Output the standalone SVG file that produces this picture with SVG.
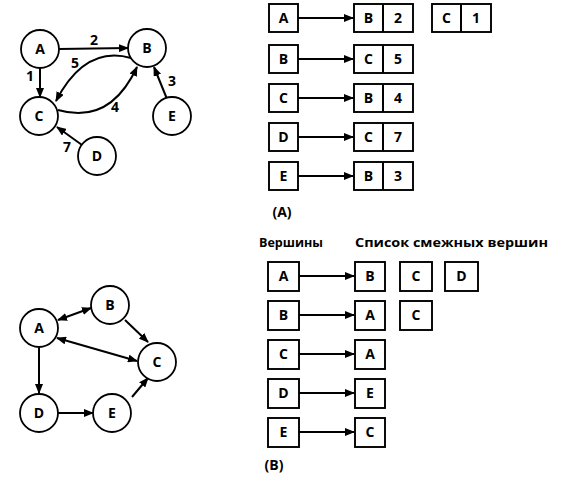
<svg xmlns="http://www.w3.org/2000/svg" width="561" height="477" viewBox="0 0 561 477">
<style>
.n circle{fill:#fff;stroke:#000;stroke-width:1.8}
.box{fill:#fff;stroke:#000;stroke-width:1.9}
text{font-family:"Open Sans","DejaVu Sans",sans-serif;font-weight:bold;font-size:14px;fill:#000;text-anchor:middle}
.lbl{font-size:14px}
.hdr{font-size:13px;text-anchor:start}
.e{fill:none;stroke:#000;stroke-width:2}
</style>
<defs>
<marker id="ah" markerUnits="userSpaceOnUse" markerWidth="10" markerHeight="8" refX="9" refY="4" orient="auto">
<path d="M0,0 L10,4 L0,8 z" fill="#000"/>
</marker>
<marker id="as" markerUnits="userSpaceOnUse" markerWidth="10" markerHeight="8" refX="1" refY="4" orient="auto">
<path d="M10,0 L0,4 L10,8 z" fill="#000"/>
</marker>
</defs>

<!-- Top graph -->
<g id="connectors-top">
<line class="e" x1="59" y1="49" x2="128" y2="48" marker-end="url(#ah)"/>
<line class="e" x1="40" y1="68" x2="40" y2="97" marker-end="url(#ah)"/>
<path class="e" d="M131,58 Q85,45 56,101" marker-end="url(#ah)"/>
<path class="e" d="M58,110 Q110,125 137,67" marker-end="url(#ah)"/>
<line class="e" x1="167" y1="99" x2="154" y2="67" marker-end="url(#ah)"/>
<line class="e" x1="82" y1="145" x2="57" y2="127" marker-end="url(#ah)"/>
</g>
<g id="edge-labels-top">
<text class="lbl" x="94" y="45">2</text>
<text class="lbl" x="30" y="81">1</text>
<text class="lbl" x="75" y="68">5</text>
<text class="lbl" x="115" y="112">4</text>
<text class="lbl" x="172" y="86">3</text>
<text class="lbl" x="67" y="152">7</text>
</g>
<g id="tA" class="n"><circle cx="40" cy="49" r="19"/><text x="40" y="54">A</text></g>
<g id="tB" class="n"><circle cx="147" cy="48" r="19"/><text x="147" y="53">B</text></g>
<g id="tC" class="n"><circle cx="39" cy="116" r="19"/><text x="39" y="121">C</text></g>
<g id="tE" class="n"><circle cx="172" cy="116" r="19"/><text x="172" y="121">E</text></g>
<g id="tD" class="n"><circle cx="97" cy="156" r="19"/><text x="97" y="161">D</text></g>

<!-- Table (A) -->
<g id="connectors-A">
<line class="e" x1="298" y1="18" x2="353" y2="18" marker-end="url(#ah)"/>
<line class="e" x1="298" y1="59" x2="353" y2="59" marker-end="url(#ah)"/>
<line class="e" x1="298" y1="98" x2="353" y2="98" marker-end="url(#ah)"/>
<line class="e" x1="298" y1="137" x2="353" y2="137" marker-end="url(#ah)"/>
<line class="e" x1="298" y1="176" x2="353" y2="176" marker-end="url(#ah)"/>
</g>
<g id="A-row-A"><rect class="box" x="269" y="4" width="29" height="28"/><text x="283.5" y="23">A</text>
<rect class="box" x="354" y="4" width="59" height="28"/><line class="e" x1="383" y1="4" x2="383" y2="32" stroke-width="1.8"/><text x="368.5" y="23">B</text><text x="398" y="23">2</text>
<rect class="box" x="432" y="4" width="59" height="28"/><line class="e" x1="461" y1="4" x2="461" y2="32" stroke-width="1.8"/><text x="446.5" y="23">C</text><text x="476" y="23">1</text></g>
<g id="A-row-B"><rect class="box" x="269" y="45" width="29" height="28"/><text x="283.5" y="64">B</text>
<rect class="box" x="354" y="45" width="59" height="28"/><line class="e" x1="383" y1="45" x2="383" y2="73" stroke-width="1.8"/><text x="368.5" y="64">C</text><text x="398" y="64">5</text></g>
<g id="A-row-C"><rect class="box" x="269" y="84" width="29" height="28"/><text x="283.5" y="103">C</text>
<rect class="box" x="354" y="84" width="59" height="28"/><line class="e" x1="383" y1="84" x2="383" y2="112" stroke-width="1.8"/><text x="368.5" y="103">B</text><text x="398" y="103">4</text></g>
<g id="A-row-D"><rect class="box" x="269" y="123" width="29" height="28"/><text x="283.5" y="142">D</text>
<rect class="box" x="354" y="123" width="59" height="28"/><line class="e" x1="383" y1="123" x2="383" y2="151" stroke-width="1.8"/><text x="368.5" y="142">C</text><text x="398" y="142">7</text></g>
<g id="A-row-E"><rect class="box" x="269" y="162" width="29" height="28"/><text x="283.5" y="181">E</text>
<rect class="box" x="354" y="162" width="59" height="28"/><line class="e" x1="383" y1="162" x2="383" y2="190" stroke-width="1.8"/><text x="368.5" y="181">B</text><text x="398" y="181">3</text></g>
<text x="282" y="217">(A)</text>

<!-- Bottom graph -->
<g id="connectors-bottom">
<line class="e" x1="58" y1="320" x2="91" y2="308" marker-start="url(#as)" marker-end="url(#ah)"/>
<line class="e" x1="125" y1="320" x2="148" y2="342" marker-end="url(#ah)"/>
<line class="e" x1="57" y1="338" x2="137" y2="361" marker-start="url(#as)" marker-end="url(#ah)"/>
<line class="e" x1="39" y1="348" x2="39" y2="393" marker-end="url(#ah)"/>
<line class="e" x1="58" y1="413" x2="93" y2="413" marker-end="url(#ah)"/>
<line class="e" x1="132" y1="397" x2="148" y2="378" marker-end="url(#ah)"/>
</g>
<g id="bA" class="n"><circle cx="39" cy="328" r="19"/><text x="39" y="333">A</text></g>
<g id="bB" class="n"><circle cx="110" cy="305" r="19"/><text x="110" y="310">B</text></g>
<g id="bC" class="n"><circle cx="157" cy="362" r="19"/><text x="157" y="367">C</text></g>
<g id="bD" class="n"><circle cx="39" cy="413" r="19"/><text x="39" y="418">D</text></g>
<g id="bE" class="n"><circle cx="112" cy="413" r="19"/><text x="112" y="418">E</text></g>

<!-- Table (B) -->
<text class="hdr" x="259" y="247" textLength="64" lengthAdjust="spacingAndGlyphs">Вершины</text>
<text class="hdr" x="355" y="247" textLength="193" lengthAdjust="spacingAndGlyphs">Список смежных вершин</text>
<g id="connectors-B">
<line class="e" x1="299" y1="276" x2="354" y2="276" marker-end="url(#ah)"/>
<line class="e" x1="299" y1="315" x2="354" y2="315" marker-end="url(#ah)"/>
<line class="e" x1="299" y1="354" x2="354" y2="354" marker-end="url(#ah)"/>
<line class="e" x1="299" y1="393" x2="354" y2="393" marker-end="url(#ah)"/>
<line class="e" x1="299" y1="432" x2="354" y2="432" marker-end="url(#ah)"/>
</g>
<g id="B-row-A"><rect class="box" x="268" y="262" width="31" height="29"/><text x="283.5" y="281">A</text>
<rect class="box" x="355" y="262" width="30" height="29"/><text x="370" y="281">B</text>
<rect class="box" x="400" y="262" width="32" height="29"/><text x="416" y="281">C</text>
<rect class="box" x="445" y="262" width="33" height="29"/><text x="461.5" y="281">D</text></g>
<g id="B-row-B"><rect class="box" x="268" y="301" width="31" height="29"/><text x="283.5" y="320">B</text>
<rect class="box" x="355" y="301" width="30" height="29"/><text x="370" y="320">A</text>
<rect class="box" x="400" y="301" width="32" height="29"/><text x="416" y="320">C</text></g>
<g id="B-row-C"><rect class="box" x="268" y="340" width="31" height="29"/><text x="283.5" y="359">C</text>
<rect class="box" x="355" y="340" width="30" height="29"/><text x="370" y="359">A</text></g>
<g id="B-row-D"><rect class="box" x="268" y="379" width="31" height="29"/><text x="283.5" y="398">D</text>
<rect class="box" x="355" y="379" width="30" height="29"/><text x="370" y="398">E</text></g>
<g id="B-row-E"><rect class="box" x="268" y="418" width="31" height="29"/><text x="283.5" y="437">E</text>
<rect class="box" x="355" y="418" width="30" height="29"/><text x="370" y="437">C</text></g>
<text x="274" y="470">(B)</text>
</svg>
